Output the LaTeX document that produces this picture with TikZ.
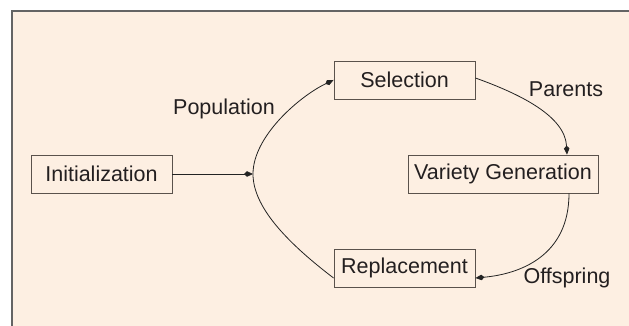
\documentclass[tikz,border=0pt]{standalone}
\usepackage{fontspec}
\setmainfont{Liberation Sans}
\usetikzlibrary{arrows.meta}
\definecolor{peach}{RGB}{253,239,226}
\definecolor{framegray}{RGB}{100,100,100}
\definecolor{boxgray}{RGB}{90,82,76}
\definecolor{textc}{RGB}{35,31,32}
\definecolor{linec}{RGB}{35,35,35}
\tikzset{
  box/.style={draw=boxgray, line width=0.9pt, minimum height=38pt, inner sep=0pt, font=\fontsize{21.5}{25}\selectfont, text=textc},
  lbl/.style={font=\fontsize{21.5}{25}\selectfont, text=textc, inner sep=0pt},
  conn/.style={draw=linec, line width=0.8pt, -{Kite[length=9pt,width=5.5pt,inset=3pt]}},
}
\begin{document}
\begin{tikzpicture}[x=1pt,y=1pt]
\useasboundingbox (0,0) rectangle (629,326);
\fill[white] (0,0) rectangle (629,326);
\fill[peach] (12,0) rectangle (629,315);
\draw[framegray, line width=1.6pt] (12,0) -- (12,315) -- (629,315);
\node[box, minimum width=141pt] (init) at (101.5,152) {Initialization};
\node[box, minimum width=141pt] (sel) at (404.5,246) {Selection};
\node[box, minimum width=190pt] (var) at (503,152) {Variety Generation};
\node[box, minimum width=141pt] (rep) at (404.5,58) {Replacement};
\node[lbl] (pop) at (224,217) {Population};
\node[lbl] (par) at (566,237) {Parents};
\node[lbl] (off) at (567,48) {Offspring};
\coordinate (m) at (253,152);
\coordinate (rp) at ([yshift=-10pt]rep.west);
\coordinate (vt) at ([xshift=64pt]var.north);
\coordinate (vb) at ([xshift=66pt]var.south);
\coordinate (re) at ([yshift=-10pt]rep.east);
\draw[conn] (init.east) -- (m);
\draw[conn] (rp) .. controls (285,85) and (253,120) .. (m) .. controls (253,190) and (300,230) .. (sel.west);
\draw[conn] ([yshift=2pt]sel.east) .. controls (520,232) and (565,210) .. (vt);
\draw[conn] (vb) .. controls (569,70) and (520,52) .. (re);
\end{tikzpicture}
\end{document}
